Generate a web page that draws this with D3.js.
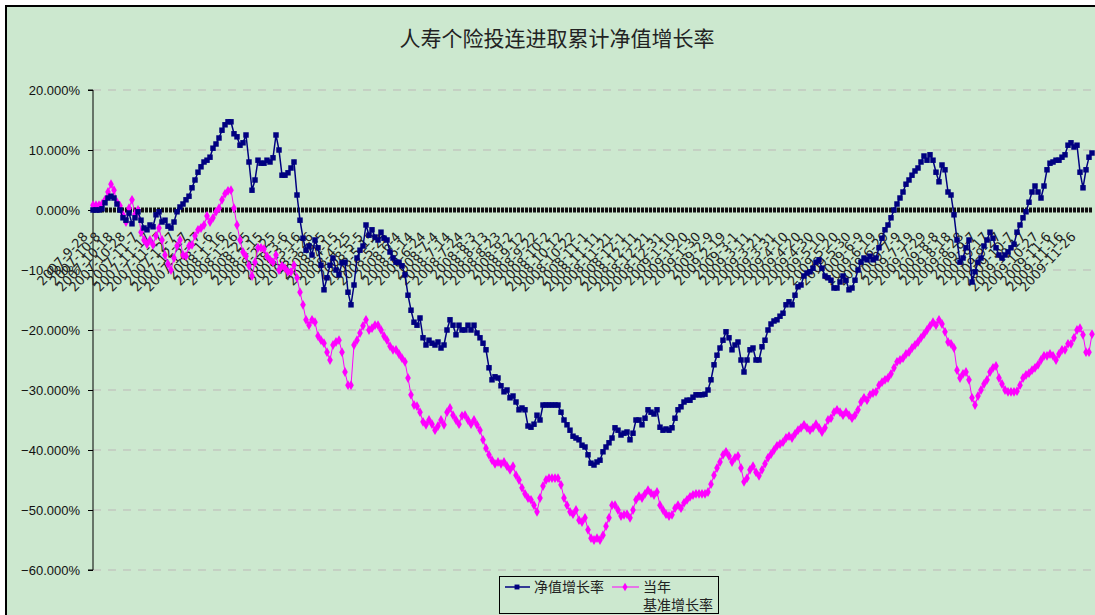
<!DOCTYPE html>
<html>
<head>
<meta charset="utf-8">
<script src="https://cdn.jsdelivr.net/npm/d3@7"></script>
<style>
  body { margin: 0; background: #fff; }
  svg { display: block; }
</style>
</head>
<body>
<div id="chart"></div>
<script>
// chart data
const chartTitle = "人寿个险投连进取累计净值增长率";
const navName = "净值增长率";
const benchName = ["当年", "基准增长率"];
const yTicks = [20, 10, 0, -10, -20, -30, -40, -50, -60];

const dateLabels = [
  "2007-9-28", "2007-10-8", "2007-10-18", "2007-10-28", "2007-11-7", "2007-11-17", "2007-11-27",
  "2007-12-7", "2007-12-17", "2007-12-27", "2008-1-6", "2008-1-16", "2008-1-26", "2008-2-5",
  "2008-2-15", "2008-2-25", "2008-3-6", "2008-3-16", "2008-3-26", "2008-4-5", "2008-4-15",
  "2008-4-25", "2008-5-5", "2008-5-15", "2008-5-25", "2008-6-4", "2008-6-14", "2008-6-24",
  "2008-7-4", "2008-7-14", "2008-7-24", "2008-8-3", "2008-8-13", "2008-8-23", "2008-9-2",
  "2008-9-12", "2008-9-22", "2008-10-2", "2008-10-12", "2008-10-22", "2008-11-1", "2008-11-11",
  "2008-11-21", "2008-12-1", "2008-12-11", "2008-12-21", "2008-12-31", "2009-1-10", "2009-1-20",
  "2009-1-30", "2009-2-9", "2009-2-19", "2009-3-1", "2009-3-11", "2009-3-21", "2009-3-31",
  "2009-4-10", "2009-4-20", "2009-4-30", "2009-5-10", "2009-5-20", "2009-5-30", "2009-6-9",
  "2009-6-19", "2009-6-29", "2009-7-9", "2009-7-19", "2009-7-29", "2009-8-8", "2009-8-18",
  "2009-8-28", "2009-9-7", "2009-9-17", "2009-9-27", "2009-10-7", "2009-10-17", "2009-10-27",
  "2009-11-6", "2009-11-16", "2009-11-26"
];

// 净值增长率 (%)
const navValues = [
  0, 0, 0, 0.2, 1.2, 2.0, 2.3, 2.0, 1.0, 0,
  -1.3, -1.7, -0.5, -2.3, -1.3, -0.3, -1.7, -3.0, -3.3, -2.5,
  -2.8, -0.8, -0.3, -2.0, -1.7, -2.7, -3.0, -2.0, -0.3, 0.5,
  1.0, 1.7, 2.3, 3.7, 5.0, 6.3, 7.2, 8.0, 8.3, 8.8,
  10.3, 11.0, 12.0, 13.3, 14.2, 14.7, 14.7, 12.7, 12.2, 10.8,
  11.2, 12.5, 8.0, 3.3, 5.0, 8.3, 7.8, 7.8, 8.3, 8.0,
  8.7, 12.5, 10.0, 5.8, 5.8, 6.2, 7.0, 8.0, 2.5, -1.7,
  -4.7, -6.7, -6.0, -7.5, -5.0, -6.3, -9.2, -13.3, -11.3, -9.2,
  -8.0, -10.0, -10.8, -8.8, -8.7, -13.7, -15.8, -12.5, -8.0, -6.7,
  -6.0, -2.5, -4.2, -3.3, -4.5, -5.0, -3.7, -4.7, -5.0, -7.0,
  -8.0, -8.7, -8.7, -9.3, -10.8, -14.2, -16.7, -18.7, -19.2, -18.0,
  -21.3, -22.5, -21.7, -22.2, -22.5, -22.0, -23.0, -22.5, -20.0, -18.3,
  -19.2, -20.8, -19.2, -20.0, -20.0, -19.2, -20.0, -19.2, -20.5, -21.3,
  -22.2, -23.3, -26.3, -28.3, -27.8, -28.0, -29.3, -30.3, -30.0, -31.3,
  -31.0, -32.0, -33.3, -33.0, -33.3, -36.0, -36.2, -35.7, -34.2, -35.0,
  -32.5, -32.5, -32.5, -32.5, -32.5, -32.5, -33.7, -35.0, -35.8, -36.7,
  -37.7, -38.0, -38.3, -39.2, -39.5, -40.8, -42.2, -42.5, -42.0, -41.7,
  -40.3, -39.5, -38.8, -38.0, -36.3, -36.7, -37.5, -37.2, -37.0, -38.3,
  -37.2, -35.0, -35.0, -35.8, -34.7, -33.3, -33.7, -34.0, -33.3, -36.2,
  -36.7, -36.5, -36.7, -36.3, -34.7, -33.3, -32.8, -32.0, -31.7, -31.7,
  -31.2, -30.8, -30.8, -30.8, -30.7, -30.0, -28.3, -25.8, -24.2, -23.0,
  -21.7, -20.3, -21.3, -23.3, -22.5, -22.0, -25.0, -27.0, -25.0, -23.3,
  -23.0, -25.0, -25.0, -22.8, -21.7, -20.0, -19.0, -18.5, -18.3, -17.7,
  -17.2, -15.8, -15.3, -15.8, -14.2, -12.8, -12.5, -11.0, -10.5, -10.3,
  -9.7, -8.7, -8.3, -9.7, -11.0, -11.3, -11.7, -13.0, -13.0, -12.0,
  -11.0, -11.7, -13.3, -13.0, -11.7, -10.0, -8.7, -8.0, -8.3, -7.7,
  -8.3, -8.0, -6.3, -4.7, -3.3, -2.5, -1.3, 0, 1.0, 2.0,
  3.0, 4.3, 5.0, 5.8, 6.5, 7.0, 8.0, 9.0, 8.3, 9.2,
  8.3, 6.3, 4.7, 7.5, 6.7, 3.0, 2.5, -0.8, -5.0, -8.7,
  -8.0, -6.3, -5.0, -12.0, -10.3, -8.7, -8.0, -6.0, -5.0, -3.7,
  -4.7, -6.3, -7.5, -8.0, -7.5, -7.0, -6.3, -5.7, -3.7, -2.5,
  -1.3, -0.3, 1.3, 3.0, 4.0, 3.0, 2.0, 4.0, 6.7, 7.8,
  8.0, 8.3, 8.3, 8.8, 9.2, 10.8, 11.2, 10.5, 10.8, 6.3,
  3.7, 6.7, 8.8, 9.5
];

// 当年基准增长率 (%)
const benchValues = [
  0.8, 0.8, 0.8, 1.0, 1.7, 3.0, 4.3, 3.3, 1.3, 0.7,
  -0.8, -2.0, 0.3, 1.7, -0.7, 0, -3.7, -5.0, -5.7, -5.0,
  -5.8, -4.3, -3.0, -5.0, -7.5, -9.0, -10.0, -8.0, -6.0, -5.0,
  -7.5, -7.7, -6.0, -5.8, -4.3, -3.3, -3.0, -2.5, -1.0, -2.0,
  -1.3, -0.3, 0.3, 1.7, 2.7, 3.2, 3.3, 0.3, -2.5, -5.0,
  -7.0, -7.7, -9.3, -11.0, -8.7, -6.3, -6.3, -6.5, -7.7, -8.3,
  -8.7, -7.5, -10.0, -9.3, -9.7, -10.3, -10.3, -9.2, -11.3, -13.7,
  -15.8, -18.3, -19.2, -18.3, -18.7, -21.0, -21.7, -22.2, -23.7, -25.0,
  -22.5, -22.0, -21.7, -23.7, -27.0, -29.2, -29.2, -22.5, -21.7, -20.5,
  -19.3, -18.3, -20.0, -19.7, -19.2, -19.2, -20.0, -21.0, -21.7, -22.7,
  -23.3, -23.3, -24.0, -24.7, -25.3, -28.0, -30.8, -32.5, -32.7, -33.7,
  -35.3, -35.8, -35.0, -35.7, -36.7, -36.0, -35.0, -35.8, -33.7, -33.0,
  -34.2, -35.0, -35.7, -34.3, -34.2, -35.0, -35.7, -35.0, -35.8, -36.7,
  -38.3, -39.7, -40.8, -41.7, -42.3, -42.0, -42.3, -42.0, -42.7, -43.3,
  -42.7, -44.2, -45.0, -46.3, -47.3, -48.0, -48.3, -49.2, -50.3, -48.0,
  -46.0, -45.0, -44.7, -44.7, -44.7, -44.7, -45.8, -48.0, -49.2, -50.3,
  -50.7, -50.0, -51.7, -52.0, -51.3, -53.3, -54.7, -55.0, -54.7, -55.0,
  -54.2, -52.7, -51.3, -49.2, -49.2, -50.0, -51.0, -50.8, -50.7, -51.3,
  -50.0, -48.3, -47.7, -48.0, -47.3, -46.7, -47.2, -47.5, -47.0, -49.2,
  -50.0, -50.7, -51.0, -50.8, -49.7, -49.2, -49.7, -48.8, -48.3, -47.8,
  -47.5, -47.3, -47.3, -47.3, -47.3, -47.0, -45.7, -44.2, -43.0, -42.0,
  -40.8, -40.3, -41.0, -42.0, -41.3, -41.0, -43.0, -45.3, -44.7, -43.3,
  -42.7, -43.7, -44.3, -43.3, -42.3, -41.3, -40.7, -40.0, -39.3, -39.0,
  -38.7, -38.0, -37.7, -38.0, -37.3, -36.7, -36.3, -35.8, -36.3, -36.7,
  -36.3, -35.7, -36.3, -37.0, -36.3, -35.0, -34.7, -33.7, -33.3, -33.7,
  -34.2, -33.7, -34.2, -34.7, -34.2, -33.3, -32.0, -31.3, -31.7, -30.8,
  -30.5, -30.3, -29.2, -28.7, -28.3, -28.0, -27.3, -26.3, -25.3, -25.0,
  -24.7, -24.0, -23.7, -23.0, -22.5, -22.0, -21.3, -20.7, -20.0, -19.3,
  -18.7, -19.2, -18.3, -19.0, -20.3, -22.0, -22.3, -23.0, -26.7, -28.0,
  -27.3, -27.0, -28.3, -31.3, -32.5, -31.0, -30.0, -29.0, -28.3, -27.0,
  -26.3, -26.0, -28.0, -29.0, -30.0, -30.3, -30.3, -30.3, -30.2, -29.2,
  -28.0, -27.5, -27.2, -26.7, -26.3, -25.8, -25.0, -24.3, -24.3, -24.0,
  -24.3, -25.0, -24.0, -23.3, -23.3, -22.3, -22.3, -21.3, -20.0, -19.7,
  -20.8, -23.7, -23.7, -20.7
];

const width = 1095;
const height = 615;
const plot = { left: 93, right: 1092, top: 90, bottom: 570 };

const svg = d3.select("#chart")
  .append("svg")
  .attr("width", width)
  .attr("height", height);

// frame + background
svg.append("rect").attr("width", width).attr("height", height).attr("fill", "#fff");
svg.append("rect")
  .attr("x", 6).attr("y", 6)
  .attr("width", 1200).attr("height", 700)
  .attr("fill", "#cce8cf")
  .attr("stroke", "#000")
  .attr("stroke-width", 2);

svg.append("text")
  .attr("x", 557).attr("y", 46)
  .attr("text-anchor", "middle")
  .attr("font-family", "'Noto Sans CJK SC', sans-serif")
  .attr("font-size", 21)
  .attr("fill", "#222")
  .text(chartTitle);

const y = d3.scaleLinear().domain([-60, 20]).range([plot.bottom, plot.top]);
const x = d3.scaleLinear().domain([0, navValues.length - 1]).range([plot.left, plot.right]);
const xLabel = d3.scalePoint().domain(dateLabels).range([plot.left, 1081]);

// gridlines
svg.append("g")
  .selectAll("line")
  .data(yTicks)
  .enter().append("line")
  .attr("x1", plot.left).attr("x2", plot.right)
  .attr("y1", d => y(d)).attr("y2", d => y(d))
  .attr("stroke", "#bdb8b8")
  .attr("stroke-width", 1)
  .attr("stroke-dasharray", "8,7");

// y axis
const yAxis = d3.axisLeft(y)
  .tickValues(yTicks)
  .tickSize(5)
  .tickPadding(8)
  .tickFormat(d => d3.format(".3f")(d) + "%");

const yg = svg.append("g")
  .attr("transform", `translate(${plot.left},0)`)
  .call(yAxis);
yg.select(".domain").attr("stroke", "#000").attr("d", `M-5,${plot.top}H0V${plot.bottom}H-5`);
yg.selectAll(".tick line").attr("stroke", "#000");
yg.selectAll(".tick text")
  .attr("font-family", "'Liberation Sans', Arial, sans-serif")
  .attr("font-size", 13)
  .attr("fill", "#111");

// category labels, rotated along the zero line
svg.append("g")
  .selectAll("text")
  .data(dateLabels)
  .enter().append("text")
  .attr("transform", d => `translate(${xLabel(d) - 11},${y(0) + 21}) rotate(-47)`)
  .attr("text-anchor", "end")
  .attr("dy", "0.7em")
  .attr("font-family", "'DejaVu Sans', sans-serif")
  .attr("font-size", 13)
  .attr("fill", "#222")
  .text(d => d);

// zero axis (dense tick marks)
svg.append("line")
  .attr("x1", plot.left).attr("x2", plot.right)
  .attr("y1", y(0)).attr("y2", y(0))
  .attr("stroke", "#111")
  .attr("stroke-width", 5)
  .attr("stroke-dasharray", "3,1");

// series
const line = d3.line()
  .x((d, i) => x(i))
  .y(d => y(d));

function drawSeries(values, color, lineWidth, symbolType, symbolSize) {
  const g = svg.append("g");
  g.append("path")
    .datum(values)
    .attr("d", line)
    .attr("fill", "none")
    .attr("stroke", color)
    .attr("stroke-width", lineWidth);
  g.selectAll("path.mark")
    .data(values)
    .enter().append("path")
    .attr("class", "mark")
    .attr("transform", (d, i) => `translate(${x(i)},${y(d)})`)
    .attr("d", d3.symbol(symbolType, symbolSize))
    .attr("fill", color);
}

drawSeries(benchValues, "#ff00ff", 1, d3.symbolDiamond, 28);
drawSeries(navValues, "#000080", 1.5, d3.symbolSquare, 30);

// legend
const legend = svg.append("g");
legend.append("rect")
  .attr("x", 499.5).attr("y", 576.5)
  .attr("width", 219).attr("height", 37)
  .attr("fill", "#cce8cf")
  .attr("stroke", "#000");

legend.append("line")
  .attr("x1", 505).attr("x2", 530).attr("y1", 587).attr("y2", 587)
  .attr("stroke", "#000080").attr("stroke-width", 1.5);
legend.append("path")
  .attr("transform", "translate(517,587)")
  .attr("d", d3.symbol(d3.symbolSquare, 24))
  .attr("fill", "#000080");
legend.append("text")
  .attr("x", 534).attr("y", 592)
  .attr("font-family", "'Noto Sans CJK SC', sans-serif")
  .attr("font-size", 14)
  .attr("fill", "#222")
  .text(navName);

legend.append("line")
  .attr("x1", 612).attr("x2", 639).attr("y1", 587).attr("y2", 587)
  .attr("stroke", "#ff00ff").attr("stroke-width", 1);
legend.append("path")
  .attr("transform", "translate(625,587)")
  .attr("d", d3.symbol(d3.symbolDiamond, 22))
  .attr("fill", "#ff00ff");
legend.append("text")
  .attr("font-family", "'Noto Sans CJK SC', sans-serif")
  .attr("font-size", 14)
  .attr("fill", "#222")
  .selectAll("tspan")
  .data(benchName)
  .enter().append("tspan")
  .attr("x", 643)
  .attr("y", (d, i) => 592 + i * 18)
  .text(d => d);
</script>
</body>
</html>
